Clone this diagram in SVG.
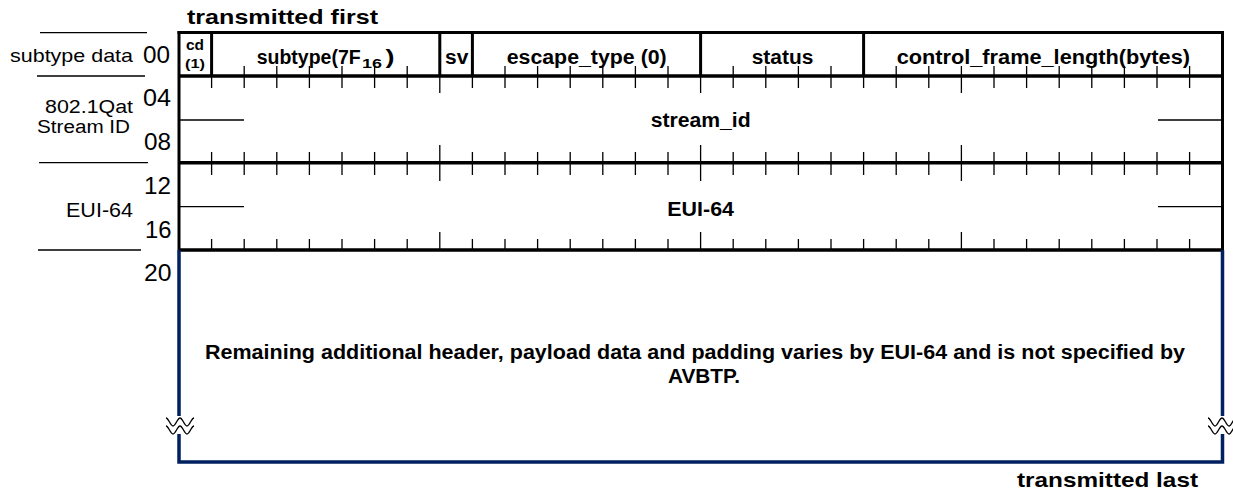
<svg xmlns="http://www.w3.org/2000/svg" width="1233" height="493" viewBox="0 0 1233 493">
<style>
text{font-family:"Liberation Sans",Arial,sans-serif;fill:#000}
.lb{font-size:19px}
.num{font-size:23.5px}
.b{font-weight:bold;font-size:19.5px}
.thick{stroke:#000;stroke-width:3.5;fill:none}
.edge{stroke:#000;stroke-width:3;fill:none}
.tick{stroke:#000;stroke-width:1.3;fill:none}
.thin{stroke:#000;stroke-width:1.3;fill:none}
.navy{stroke:#002060;stroke-width:3.5;fill:none;stroke-linejoin:miter}
.wave{stroke:#000;stroke-width:1.3;fill:none}
</style>
<defs>
<path id="w" d="M-14,-4 C-11.5,-4 -9.5,4 -7,4 C-4.5,4 -2.5,-4 0,-4 C2.5,-4 4.5,4 7,4 C9.5,4 11.5,-4 14,-4"/>
</defs>
<rect width="1233" height="493" fill="#fff"/>

<g id="header-texts">
<text class="b" x="187" y="24" style="font-size:21px" textLength="191" lengthAdjust="spacingAndGlyphs">transmitted first</text>
<text class="b" x="1017" y="487" style="font-size:21px" textLength="181" lengthAdjust="spacingAndGlyphs">transmitted last</text>
</g>

<g id="left-labels">
<path class="thin" d="M40,32.7H147M37,76H145M39,162.7H148M38,250H141"/>
<text class="lb" x="10" y="62" textLength="123" lengthAdjust="spacingAndGlyphs">subtype data</text>
<text class="lb" x="45" y="112.5" style="font-size:18px" textLength="88" lengthAdjust="spacingAndGlyphs">802.1Qat</text>
<text class="lb" x="37" y="133" style="font-size:18px" textLength="93" lengthAdjust="spacingAndGlyphs">Stream ID</text>
<text class="lb" x="66" y="216.5" style="font-size:20px" textLength="67" lengthAdjust="spacingAndGlyphs">EUI-64</text>
<text class="num" x="143" y="62.5" textLength="27" lengthAdjust="spacingAndGlyphs">00</text>
<text class="num" x="143" y="106" textLength="28" lengthAdjust="spacingAndGlyphs">04</text>
<text class="num" x="144" y="150" textLength="27" lengthAdjust="spacingAndGlyphs">08</text>
<text class="num" x="144" y="194" textLength="27" lengthAdjust="spacingAndGlyphs">12</text>
<text class="num" x="145" y="237.5" textLength="26.5" lengthAdjust="spacingAndGlyphs">16</text>
<text class="num" x="144" y="281" textLength="27.5" lengthAdjust="spacingAndGlyphs">20</text>
</g>

<g id="frame">
<path class="edge" d="M177.5,32.5H1224"/>
<path class="edge" d="M179,31V250M1222.5,31V250"/>
<path class="thick" d="M179,76H1222.5M179,162.7H1222.5M179,250H1222.5"/>
<path class="navy" d="M179,250V416M179,434V462H1222.5V434M1222.5,416V250"/>
<use href="#w" class="wave" x="180" y="422"/>
<use href="#w" class="wave" x="180" y="430"/>
<use href="#w" class="wave" x="1222" y="422"/>
<use href="#w" class="wave" x="1222" y="430"/>
</g>

<g id="row-00">
<path class="edge" d="M211.6,32V76M439.8,32V76M472.4,32V76M700.6,32V76M863.6,32V76"/>
<path class="tick" d="M211.6,66V88M244.2,66V88M276.8,66V88M309.4,66V88M342,66V88M374.6,66V88M407.2,66V88M439.8,66V93M472.4,66V88M505,66V88M537.6,66V88M570.2,66V88M602.8,66V88M635.4,66V88M668,66V88M700.6,66V93M733.2,66V88M765.8,66V88M798.4,66V88M831,66V88M863.6,66V88M896.2,66V88M928.8,66V88M961.4,66V93M994,66V88M1026.6,66V88M1059.2,66V88M1091.8,66V88M1124.4,66V88M1157,66V88M1189.6,66V88"/>
<g id="field-cd">
<text class="b" x="186" y="50" style="font-size:14px" textLength="18" lengthAdjust="spacingAndGlyphs">cd</text>
<text class="b" x="185" y="67.5" style="font-size:13px" textLength="20" lengthAdjust="spacingAndGlyphs">(1)</text>
</g>
<g id="field-subtype">
<text class="b" x="256.7" y="63.5" textLength="104" lengthAdjust="spacingAndGlyphs">subtype(7F</text>
<text class="b" x="362" y="67.5" style="font-size:13.5px" textLength="20" lengthAdjust="spacingAndGlyphs">16</text>
<text class="b" x="385.5" y="63.5" textLength="9" lengthAdjust="spacingAndGlyphs">)</text>
</g>
<g id="field-sv"><text class="b" x="445" y="63.5" textLength="23.3" lengthAdjust="spacingAndGlyphs">sv</text></g>
<g id="field-escape"><text class="b" x="506.7" y="63.5" textLength="160" lengthAdjust="spacingAndGlyphs">escape_type (0)</text></g>
<g id="field-status"><text class="b" x="751.7" y="63.5" textLength="61.6" lengthAdjust="spacingAndGlyphs">status</text></g>
<g id="field-cfl"><text class="b" x="896.7" y="63.5" textLength="293.3" lengthAdjust="spacingAndGlyphs">control_frame_length(bytes)</text></g>
</g>

<g id="row-stream-id">
<path class="thin" d="M180,120H244M1158,120H1222"/>
<path class="tick" d="M211.6,152V175M244.2,152V175M276.8,152V175M309.4,152V175M342,152V175M374.6,152V175M407.2,152V175M439.8,145V181M472.4,152V175M505,152V175M537.6,152V175M570.2,152V175M602.8,152V175M635.4,152V175M668,152V175M700.6,145V181M733.2,152V175M765.8,152V175M798.4,152V175M831,152V175M863.6,152V175M896.2,152V175M928.8,152V175M961.4,145V181M994,152V175M1026.6,152V175M1059.2,152V175M1091.8,152V175M1124.4,152V175M1157,152V175M1189.6,152V175"/>
<text class="b" x="650.7" y="127" textLength="100" lengthAdjust="spacingAndGlyphs">stream_id</text>
</g>

<g id="row-eui64">
<path class="thin" d="M180,206.7H244M1158,206.7H1222"/>
<path class="tick" d="M211.6,239V250M244.2,239V250M276.8,239V250M309.4,239V250M342,239V250M374.6,239V250M407.2,239V250M439.8,232V250M472.4,239V250M505,239V250M537.6,239V250M570.2,239V250M602.8,239V250M635.4,239V250M668,239V250M700.6,232V250M733.2,239V250M765.8,239V250M798.4,239V250M831,239V250M863.6,239V250M896.2,239V250M928.8,239V250M961.4,232V250M994,239V250M1026.6,239V250M1059.2,239V250M1091.8,239V250M1124.4,239V250M1157,239V250M1189.6,239V250"/>
<text class="b" x="667.3" y="215.5" textLength="66.7" lengthAdjust="spacingAndGlyphs">EUI-64</text>
</g>

<g id="row-payload">
<text class="b" x="205" y="359" textLength="980" lengthAdjust="spacingAndGlyphs">Remaining additional header, payload data and padding varies by EUI-64 and is not specified by</text>
<text class="b" x="668" y="383" textLength="72" lengthAdjust="spacingAndGlyphs">AVBTP.</text>
</g>

<g id="connectors"></g>
</svg>
